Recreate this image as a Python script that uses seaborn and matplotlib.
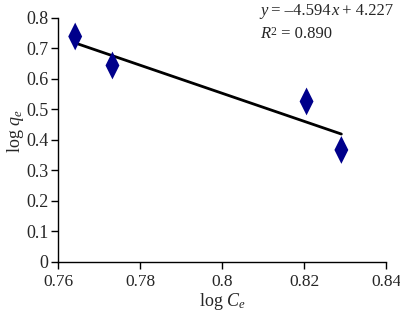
import matplotlib
matplotlib.use('Agg')
import matplotlib.pyplot as plt
from matplotlib.offsetbox import TextArea, HPacker, VPacker, AnnotationBbox
import seaborn as sns
import numpy as np
import pandas as pd

# 데이터
log_ce = [0.7641, 0.7732, 0.8206, 0.8291]
log_qe = [0.738, 0.643, 0.525, 0.366]
slope = -4.594
intercept = 4.227
r2 = 0.890
x_ticks = [0.76, 0.78, 0.8, 0.82, 0.84]
x_labels = ['0.76', '0.78', '0.8', '0.82', '0.84']
y_ticks = [0, 0.1, 0.2, 0.3, 0.4, 0.5, 0.6, 0.7, 0.8]
y_labels = ['0', '0.1', '0.2', '0.3', '0.4', '0.5', '0.6', '0.7', '0.8']

sns.set_style('ticks')
plt.rcParams['font.family'] = ['Liberation Serif', 'DejaVu Serif']
plt.rcParams['mathtext.fontset'] = 'custom'
plt.rcParams['mathtext.rm'] = 'Liberation Serif'
plt.rcParams['mathtext.it'] = 'Liberation Serif:italic'

fs = 13
df = pd.DataFrame({'log_ce': log_ce, 'log_qe': log_qe})

fig = plt.figure(figsize=(4, 3.14), dpi=100)
ax = fig.add_axes([0.146, 0.167, 0.819, 0.777])

# 추세선
xs = np.array([min(log_ce), max(log_ce)])
ax.plot(xs, slope * xs + intercept, color='black', lw=2, zorder=2)

# 마름모 마커
diamond = [(0, 1), (0.5, 0), (0, -1), (-0.5, 0), (0, 1)]
sns.scatterplot(data=df, x='log_ce', y='log_qe', marker=diamond, s=400,
                color='#00008B', edgecolor='none', ax=ax, zorder=3)

ax.set_xlim(0.76, 0.84)
ax.set_ylim(0, 0.8)
ax.set_xticks(x_ticks)
ax.set_xticklabels(x_labels)
ax.set_yticks(y_ticks)
ax.set_yticklabels(y_labels)
ax.tick_params(labelsize=fs, length=5, width=1, color='black', direction='out')
ax.tick_params(axis='x', pad=4, labelsize=12.5)
ax.tick_params(axis='y', pad=2)
for s in ['left', 'bottom']:
    ax.spines[s].set_color('black')
    ax.spines[s].set_linewidth(1)
sns.despine(ax=ax)

ax.set_xlabel(r'log $C_e$', fontsize=fs, labelpad=1)
ax.set_ylabel(r'log $q_e$', fontsize=fs)
ax.yaxis.set_label_coords(-0.10, 0.533)

# 회귀식 텍스트
def ta(s, italic=False, size=12):
    return TextArea(s, textprops=dict(fontsize=size, style='italic' if italic else 'normal'))

line1 = HPacker(children=[ta('y', True), ta(' = –4.594'), ta('x', True), ta(' + 4.227')],
                pad=0, sep=0, align='baseline')
line2 = HPacker(children=[ta('R', True), ta('$^2$'), ta(' = %.3f' % r2)],
                pad=0, sep=0, align='baseline')
box = VPacker(children=[line1, line2], pad=0, sep=5, align='left')
ab = AnnotationBbox(box, (0.65, 0.99), xycoords='figure fraction',
                    box_alignment=(0, 1), frameon=False, pad=0)
fig.add_artist(ab)

fig.savefig('out.png', dpi=100)
